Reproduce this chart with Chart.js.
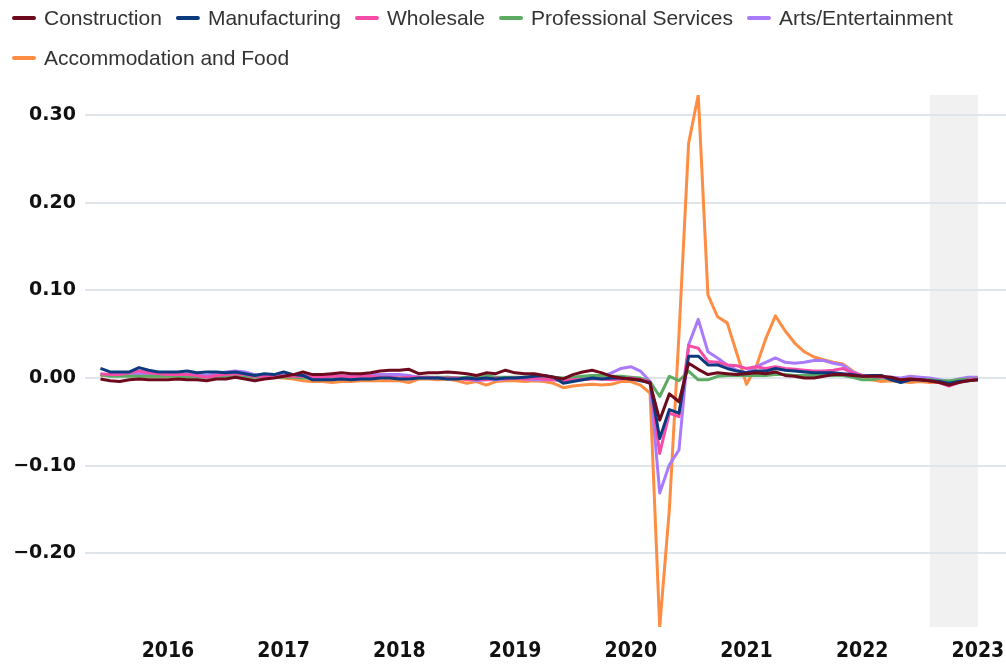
<!DOCTYPE html>
<html>
<head>
<meta charset="utf-8">
<title>Monthly change by industry</title>
<script src="https://cdn.jsdelivr.net/npm/chart.js@4.4.0/dist/chart.umd.min.js"></script>
<style>
  html, body { margin: 0; padding: 0; background: #ffffff; }
  #wrap { width: 1006px; height: 664px; }
</style>
</head>
<body>
<div id="wrap"><canvas id="industryChart" width="1006" height="664"></canvas></div>
<script>
//--- months: Jun 2015 .. Jan 2023
var months = [];
for (var k = 0; k < 92; k++) {
    var m = 5 + k;
    months.push((2015 + Math.floor(m / 12)) + '-' + ('0' + (m % 12 + 1)).slice(-2));
}

var yearTicks = [2016, 2017, 2018, 2019, 2020, 2021, 2022, 2023];
var valueTicks = [-0.2, -0.1, 0, 0.1, 0.2, 0.3];

// shaded period
var shadeFrom = '2022-08';
var shadeTo = '2023-01';

var construction = [
    -0.001, -0.003, -0.004, -0.002, -0.001, -0.002, -0.002, -0.002, -0.001, -0.002,
    -0.002, -0.003, -0.001, -0.001, 0.001, -0.001, -0.003, -0.001, 0.000, 0.002,
    0.004, 0.007, 0.004, 0.004, 0.005, 0.006, 0.005, 0.005, 0.006, 0.008,
    0.009, 0.009, 0.010, 0.005, 0.006, 0.006, 0.007, 0.006, 0.005, 0.003,
    0.006, 0.005, 0.009, 0.006, 0.005, 0.005, 0.003, 0.001, -0.001, 0.004,
    0.007, 0.009, 0.006, 0.002, 0.000, -0.001, -0.002, -0.006, -0.048, -0.018,
    -0.027, 0.017, 0.010, 0.004, 0.006, 0.005, 0.004, 0.005, 0.006, 0.005,
    0.007, 0.003, 0.002, 0.000, 0.000, 0.002, 0.004, 0.004, 0.003, 0.002,
    0.002, 0.002, 0.001, -0.002, -0.001, -0.002, -0.003, -0.005, -0.008, -0.005,
    -0.003, -0.002
];
var manufacturing = [
    0.011, 0.007, 0.007, 0.007, 0.012, 0.009, 0.007, 0.007, 0.007, 0.008,
    0.006, 0.007, 0.007, 0.006, 0.007, 0.005, 0.003, 0.005, 0.004, 0.007,
    0.004, 0.003, -0.002, -0.002, -0.002, -0.001, -0.002, -0.001, -0.001, 0.000,
    0.000, -0.001, -0.001, 0.000, 0.000, 0.000, -0.001, -0.001, 0.000, -0.001,
    0.000, -0.001, 0.000, 0.000, 0.001, 0.002, 0.003, 0.001, -0.006, -0.004,
    -0.002, 0.000, -0.001, 0.000, 0.000, -0.001, -0.003, -0.005, -0.069, -0.036,
    -0.040, 0.025, 0.025, 0.015, 0.015, 0.011, 0.008, 0.006, 0.008, 0.008,
    0.011, 0.009, 0.008, 0.007, 0.006, 0.006, 0.006, 0.005, 0.004, 0.002,
    0.003, 0.003, -0.002, -0.005, -0.002, -0.002, -0.003, -0.004, -0.006, -0.004,
    -0.003, -0.002
];
var wholesale = [
    0.005, 0.004, 0.004, 0.006, 0.008, 0.006, 0.005, 0.004, 0.004, 0.004,
    0.003, 0.001, 0.003, 0.004, 0.005, 0.004, 0.002, 0.002, 0.003, 0.002,
    0.002, 0.002, 0.001, 0.001, 0.002, 0.002, 0.001, 0.002, 0.002, 0.001,
    0.001, 0.000, 0.001, 0.001, 0.001, 0.000, 0.000, 0.000, -0.002, -0.001,
    -0.002, 0.000, -0.001, 0.000, -0.001, 0.000, -0.001, -0.002, -0.003, -0.002,
    -0.002, -0.001, -0.001, -0.002, -0.001, 0.000, -0.002, -0.004, -0.086, -0.040,
    -0.044, 0.037, 0.034, 0.019, 0.018, 0.015, 0.014, 0.011, 0.013, 0.011,
    0.013, 0.011, 0.010, 0.009, 0.008, 0.008, 0.009, 0.011, 0.006, 0.003,
    0.002, 0.001, 0.000, -0.002, -0.001, -0.002, -0.003, -0.005, -0.009, -0.005,
    -0.002, -0.001
];
var professional = [
    0.004, 0.002, 0.002, 0.002, 0.002, 0.002, 0.002, 0.002, 0.002, 0.001,
    0.001, 0.001, 0.001, 0.002, 0.002, 0.001, 0.001, 0.001, 0.001, 0.001,
    0.001, 0.000, 0.000, 0.000, 0.001, 0.001, 0.000, 0.001, 0.001, 0.001,
    0.001, 0.000, 0.000, 0.001, 0.001, 0.001, 0.001, 0.000, 0.001, 0.001,
    0.003, 0.001, 0.001, 0.001, 0.001, 0.001, 0.001, 0.001, 0.000, 0.001,
    0.002, 0.003, 0.003, 0.002, 0.002, 0.001, 0.000, -0.004, -0.021, 0.002,
    -0.003, 0.008, -0.002, -0.002, 0.002, 0.003, 0.003, 0.003, 0.003, 0.003,
    0.004, 0.004, 0.003, 0.003, 0.003, 0.003, 0.003, 0.003, 0.001, -0.002,
    -0.002, 0.000, -0.001, -0.002, -0.001, -0.002, -0.002, -0.003, -0.003, -0.002,
    -0.001, -0.001
];
var arts = [
    0.004, 0.003, 0.003, 0.004, 0.005, 0.004, 0.003, 0.004, 0.003, 0.004,
    0.004, 0.003, 0.005, 0.007, 0.008, 0.007, 0.004, 0.002, 0.003, 0.003,
    0.004, 0.003, 0.003, 0.003, 0.003, 0.002, 0.002, 0.002, 0.004, 0.004,
    0.004, 0.004, 0.003, 0.001, 0.000, 0.000, 0.001, 0.000, -0.001, -0.003,
    -0.002, -0.002, -0.001, 0.000, -0.001, -0.002, -0.002, -0.002, -0.003, -0.001,
    0.001, 0.002, 0.002, 0.006, 0.011, 0.013, 0.008, -0.004, -0.131, -0.099,
    -0.082, 0.038, 0.067, 0.030, 0.023, 0.015, 0.009, 0.006, 0.013, 0.018,
    0.023, 0.018, 0.017, 0.018, 0.020, 0.020, 0.017, 0.015, 0.007, 0.003,
    0.002, 0.001, 0.001, 0.000, 0.002, 0.001, 0.000, -0.002, -0.004, -0.001,
    0.001, 0.001
];
var accommodation = [
    0.003, 0.003, 0.003, 0.004, 0.003, 0.002, 0.002, 0.002, 0.003, 0.003,
    0.002, 0.002, 0.002, 0.002, 0.001, 0.001, 0.001, 0.001, 0.001, 0.000,
    -0.001, -0.003, -0.004, -0.004, -0.005, -0.004, -0.004, -0.003, -0.003, -0.003,
    -0.003, -0.003, -0.005, -0.001, -0.001, -0.002, -0.001, -0.003, -0.006, -0.004,
    -0.008, -0.004, -0.003, -0.003, -0.004, -0.003, -0.004, -0.006, -0.011, -0.009,
    -0.008, -0.007, -0.008, -0.007, -0.004, -0.004, -0.008, -0.017, -0.284, -0.150,
    0.050, 0.268, 0.323, 0.095, 0.070, 0.063, 0.028, -0.007, 0.013, 0.045,
    0.071, 0.054, 0.040, 0.030, 0.024, 0.021, 0.018, 0.016, 0.008, 0.002,
    -0.002, -0.004, -0.003, -0.004, -0.005, -0.004, -0.005, -0.005, -0.004, -0.003,
    -0.002, -0.001
];

var seriesNames = ['Construction', 'Manufacturing', 'Wholesale', 'Professional Services',
    'Arts/Entertainment', 'Accommodation and Food'];
var seriesColors = ['#6e0a1e', '#0b3a7e', '#f64ba6', '#5cab62', '#a97bfb', '#fc8d43'];
var seriesValues = [construction, manufacturing, wholesale, professional, arts, accommodation];

//--- helpers
function toYear(label) {
    var parts = label.split('-');
    return Number(parts[0]) + (Number(parts[1]) - 1) / 12;
}

function toPoints(values) {
    return values.map(function (v, i) { return { x: toYear(months[i]), y: v }; });
}

var allValues = [].concat.apply([], seriesValues);
var yMin = Math.min.apply(null, allValues);
var yMax = Math.max.apply(null, allValues);

var datasets = seriesNames.map(function (name, i) {
    return {
        label: name,
        data: toPoints(seriesValues[i]),
        borderColor: seriesColors[i],
        backgroundColor: seriesColors[i],
        borderWidth: 3,
        pointRadius: 0,
        pointHoverRadius: 0,
        tension: 0,
        borderJoinStyle: 'round'
    };
});

// grey band behind the grid
var shadePlugin = {
    id: 'shade',
    beforeDraw: function (chart) {
        var ctx = chart.ctx, area = chart.chartArea, xs = chart.scales.x;
        var left = xs.getPixelForValue(toYear(shadeFrom));
        var right = xs.getPixelForValue(toYear(shadeTo));
        ctx.save();
        ctx.fillStyle = '#f1f1f1';
        ctx.fillRect(left, area.top, right - left, area.bottom - area.top);
        ctx.restore();
    }
};

// legend with short line markers, wrapping onto a second row
var lineLegend = {
    id: 'lineLegend',
    afterDraw: function (chart) {
        var ctx = chart.ctx;
        ctx.save();
        ctx.font = '21px "Liberation Sans", Arial, sans-serif';
        ctx.textBaseline = 'middle';
        var x = 12, row = 0;
        chart.data.datasets.forEach(function (ds) {
            var w = 32 + ctx.measureText(ds.label).width;
            if (x + w > chart.width) {
                x = 12;
                row++;
            }
            var y = 18 + row * 40;
            ctx.strokeStyle = ds.borderColor;
            ctx.lineWidth = 4;
            ctx.lineCap = 'round';
            ctx.beginPath();
            ctx.moveTo(x + 2, y);
            ctx.lineTo(x + 22, y);
            ctx.stroke();
            ctx.fillStyle = '#333333';
            ctx.fillText(ds.label, x + 32, y + 1);
            x += w + 14;
        });
        ctx.restore();
    }
};

function noScalePadding(scale) {
    scale.paddingLeft = 0;
    scale.paddingRight = 0;
    scale.paddingTop = 0;
    scale.paddingBottom = 0;
}

var ctx = document.getElementById('industryChart').getContext('2d');
var industryChart = new Chart(ctx, {
    type: 'line',
    data: { datasets: datasets },
    plugins: [shadePlugin, lineLegend],
    options: {
        responsive: false,
        animation: false,
        devicePixelRatio: 1,
        layout: { padding: { top: 95, left: 0, right: 0, bottom: 0 } },
        plugins: {
            legend: { display: false },
            tooltip: { enabled: false }
        },
        scales: {
            x: {
                type: 'linear',
                min: 2015.283,
                max: 2023.243,
                grid: { display: false, drawTicks: false },
                border: { display: false },
                afterBuildTicks: function (scale) {
                    scale.ticks = yearTicks.map(function (v) { return { value: v }; });
                },
                afterFit: function (scale) {
                    scale.height = 37;
                    noScalePadding(scale);
                },
                ticks: {
                    autoSkip: false,
                    maxRotation: 0,
                    padding: 12,
                    color: '#111111',
                    font: { family: '"DejaVu Sans Condensed", "DejaVu Sans", sans-serif', weight: 'bold', size: 21 },
                    callback: function (v) { return String(v); }
                }
            },
            y: {
                type: 'linear',
                min: yMin,
                max: yMax,
                grid: { color: '#dfe5ea', lineWidth: 2, drawTicks: false },
                border: { display: false },
                afterBuildTicks: function (scale) {
                    scale.ticks = valueTicks.map(function (v) { return { value: v }; });
                },
                afterFit: function (scale) {
                    scale.width = 85;
                    noScalePadding(scale);
                },
                ticks: {
                    padding: 9,
                    color: '#111111',
                    font: { family: '"DejaVu Sans", sans-serif', weight: 'bold', size: 19 },
                    callback: function (v) { return v.toFixed(2).replace('-', '\u2212'); }
                }
            }
        }
    }
});
</script>
</body>
</html>
